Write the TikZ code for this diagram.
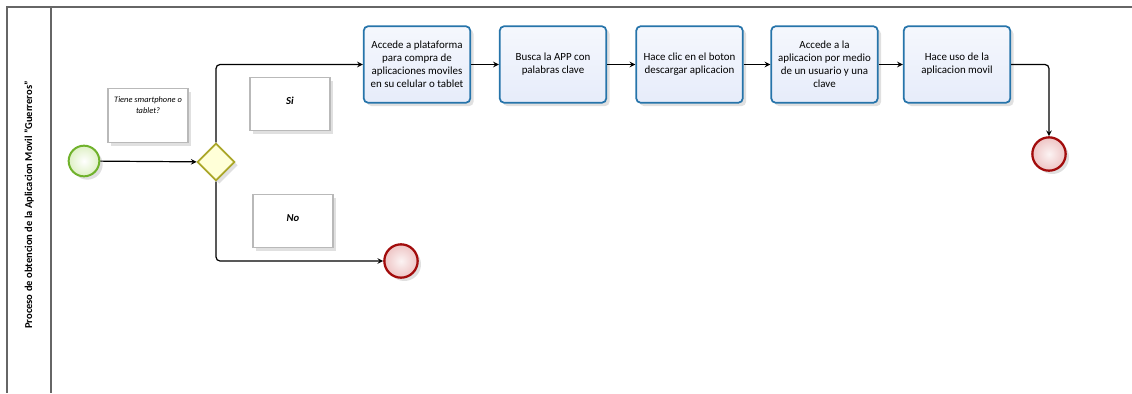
\documentclass[tikz,border=0pt]{standalone}
\usepackage{fontspec}
\setmainfont{Carlito}
\usetikzlibrary{shapes.geometric, shadows}

\definecolor{azultarea}{RGB}{38,116,170}
\definecolor{fondotarea}{RGB}{230,236,250}
\definecolor{verdeinicio}{RGB}{112,178,44}
\definecolor{fondoinicio}{RGB}{222,240,196}
\definecolor{olivagw}{RGB}{170,166,40}
\definecolor{fondogw}{RGB}{255,255,216}
\definecolor{rojofin}{RGB}{162,12,12}
\definecolor{fondofin}{RGB}{238,196,196}

\begin{document}
\begin{tikzpicture}[x=0.75pt, y=-0.75pt, >=stealth,
    sombra/.style={drop shadow={shadow xshift=2.5pt, shadow yshift=-2.5pt, opacity=0.12, fill=black}},
    tarea/.style={draw=azultarea, line width=1.3pt, rounded corners=3.5pt, sombra,
        top color=white!60!fondotarea, bottom color=fondotarea,
        minimum width=80pt, minimum height=57.5pt, align=center,
        font=\fontsize{8.2}{9.8}\selectfont},
    inicio/.style={circle, draw=verdeinicio, line width=1.5pt, sombra,
        inner color=white, outer color=fondoinicio, minimum size=23pt, inner sep=0pt},
    fin/.style={circle, draw=rojofin, line width=1.7pt, sombra,
        inner color=white!80!fondofin, outer color=fondofin, minimum size=25pt, inner sep=0pt},
    compuerta/.style={diamond, aspect=1, draw=olivagw, line width=1.3pt, sombra,
        fill=fondogw, minimum size=28pt, inner sep=0pt},
    nota/.style={draw=gray!55, line width=0.9pt, fill=white, sombra,
        minimum width=60pt, minimum height=40pt},
    flujo/.style={->, line width=0.9pt, black, rounded corners=3pt}
]
    \useasboundingbox (0,0) rectangle (1132,393);

    % Piscina y carril
    \draw[line width=1.2pt, gray!80!black] (1132,7) -- (7,7) -- (7,393);
    \draw[line width=1.2pt, gray!80!black] (51,7) -- (51,393);
    \node[rotate=90, font=\bfseries\fontsize{7.9}{9}\selectfont] (titulo) at (29,205)
        {Proceso de obtencion de la Aplicacion Movil "Guerreros"};

    % Eventos y compuerta
    \node[inicio] (ini) at (84,161) {};
    \node[compuerta] (gw) at (216,162) {};
    \node[fin] (fin1) at (401,261) {};
    \node[fin] (fin2) at (1049,154) {};

    % Anotaciones
    \node[nota, label={[anchor=north, yshift=-2.5pt, align=center,
        font=\itshape\fontsize{6.3}{8.2}\selectfont]north:Tiene smartphone o\\tablet?}]
        (pregunta) at (148,115.5) {};
    \node[nota, label={[yshift=2.5pt, font=\bfseries\itshape\fontsize{8}{9}\selectfont]center:Si}]
        (si) at (290,104) {};
    \node[nota, label={[yshift=2.5pt, font=\bfseries\itshape\fontsize{8}{9}\selectfont]center:No}]
        (no) at (293,221) {};

    % Tareas
    \node[tarea] (t1) at (417,64.5) {Accede a plataforma\\para compra de\\aplicaciones moviles\\en su celular o tablet};
    \node[tarea] (t2) at (553,64.5) {Busca la APP con\\palabras clave};
    \node[tarea] (t3) at (689.5,64.5) {Hace clic en el boton\\descargar aplicacion};
    \node[tarea] (t4) at (824.5,64.5) {Accede a la\\aplicacion por medio\\de un usuario y una\\clave};
    \node[tarea] (t5) at (957,64.5) {Hace uso de la\\aplicacion movil};

    % Flujos
    \draw[flujo] (ini) -- (gw);
    \draw[flujo] (gw.north) |- (t1.west);
    \draw[flujo] (gw.south) |- (fin1.west);
    \draw[flujo] (t1) -- (t2);
    \draw[flujo] (t2) -- (t3);
    \draw[flujo] (t3) -- (t4);
    \draw[flujo] (t4) -- (t5);
    \draw[flujo] (t5.east) -| (fin2.north);
\end{tikzpicture}
\end{document}
